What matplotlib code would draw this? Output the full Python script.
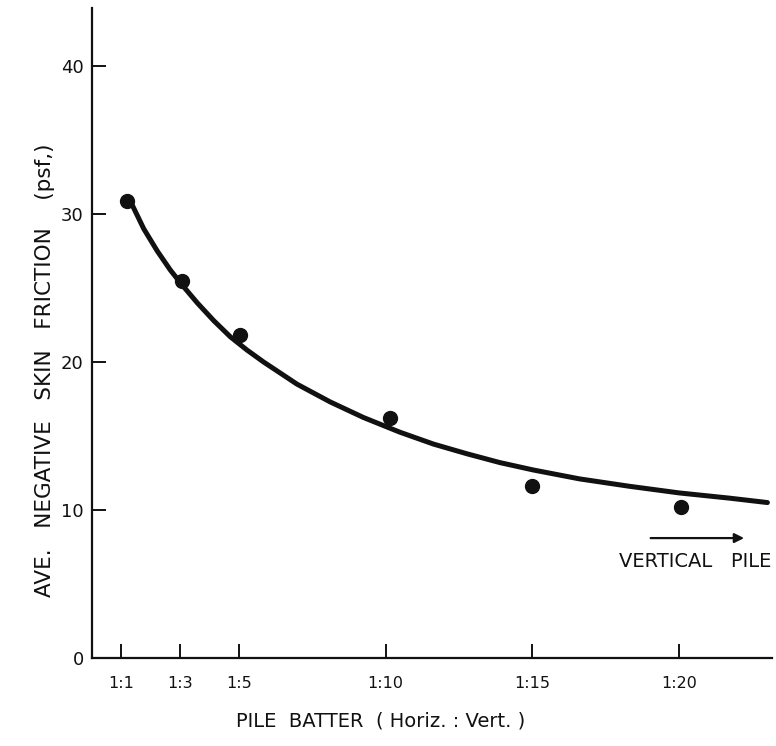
import matplotlib.pyplot as plt

# batter ratio 1:n -> plotted against n
pointN = [1.2, 3.08, 5.05, 10.15, 15.0, 20.05]
pointFriction = [30.9, 25.5, 21.8, 16.2, 11.6, 10.2]

# fitted curve
curveN = [1.37, 1.76, 2.22, 2.67, 3.07, 3.58, 4.14, 4.71, 5.28, 5.84, 6.98, 8.11,
          9.24, 10.49, 11.63, 12.76, 13.89, 15.03, 16.6, 18.3, 20.0, 21.7, 23.0]
curveFriction = [30.6, 29.0, 27.5, 26.2, 25.2, 24.0, 22.8, 21.7, 20.8, 20.0, 18.5, 17.3,
                 16.25, 15.25, 14.45, 13.8, 13.2, 12.7, 12.1, 11.6, 11.15, 10.8, 10.5]

tickN = [1, 3, 5, 10, 15, 20]
tickLabels = ["1:1", "1:3", "1:5", "1:10", "1:15", "1:20"]
yTicks = [0, 10, 20, 30, 40]

fig = plt.figure(figsize=(7.76, 7.46), dpi=100)
ax = fig.add_axes([0.1186, 0.118, 0.876, 0.871])

ax.plot(curveN, curveFriction, color="#111111", linewidth=3.6,
        solid_capstyle="round", solid_joinstyle="round")
ax.plot(pointN, pointFriction, "o", color="#111111", markersize=10)

ax.set_xlim(0, 23.15)
ax.set_ylim(0, 43.9)

for side in ["top", "right"]:
    ax.spines[side].set_visible(False)
for side in ["left", "bottom"]:
    ax.spines[side].set_linewidth(1.6)
    ax.spines[side].set_color("#111111")

ax.set_xticks(tickN)
ax.set_xticklabels(tickLabels)
ax.set_yticks(yTicks)
ax.tick_params(direction="in", length=10, width=1.4, colors="#111111", labelsize=11.5)
ax.tick_params(axis="x", pad=13)
ax.tick_params(axis="y", pad=6, labelsize=13)

ax.set_xlabel("PILE  BATTER  ( Horiz. : Vert. )", fontsize=14, color="#111111")
ax.xaxis.set_label_coords(0.425, -0.082)
ax.set_ylabel("AVE.   NEGATIVE   SKIN   FRICTION    (psf,)", fontsize=15.5, color="#111111")
ax.yaxis.set_label_coords(-0.054, 0.443)

ax.annotate("", xy=(22.3, 8.1), xytext=(18.93, 8.1),
            arrowprops=dict(arrowstyle="-|>", color="#111111", lw=1.6, mutation_scale=14))
ax.text(23.15, 6.5, "VERTICAL   PILE", ha="right", va="center", fontsize=14, color="#111111")

plt.savefig("out.png", dpi=100)
